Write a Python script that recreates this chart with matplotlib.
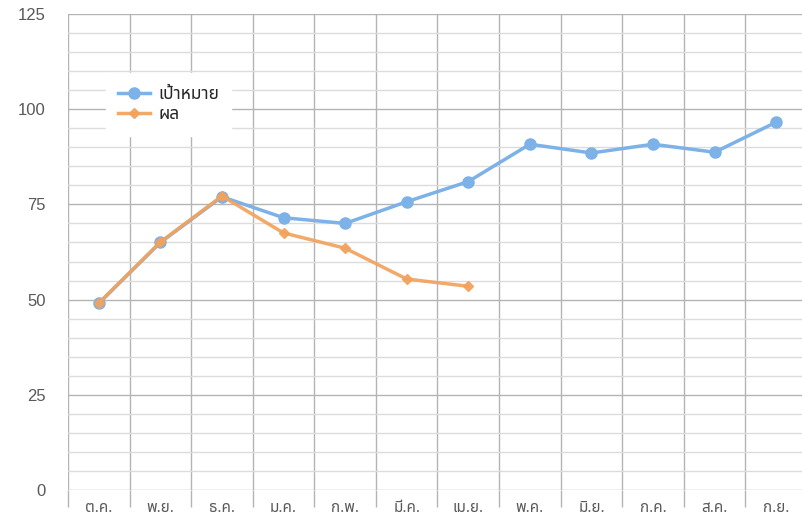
import matplotlib
matplotlib.use("Agg")
import matplotlib.pyplot as plt
from matplotlib.ticker import MultipleLocator, FixedLocator, NullFormatter

plt.rcParams["font.family"] = ["Noto Sans Thai", "Liberation Sans", "DejaVu Sans"]

months = ["ต.ค.", "พ.ย.", "ธ.ค.", "ม.ค.", "ก.พ.", "มี.ค.", "เม.ย.",
          "พ.ค.", "มิ.ย.", "ก.ค.", "ส.ค.", "ก.ย."]
target = [49, 65, 77, 71.5, 70, 75.7, 81, 90.8, 88.5, 90.8, 88.7, 96.6]
result = [49.1, 65.1, 77.2, 67.5, 63.5, 55.4, 53.5]

blue = "#7cb2e8"
orange = "#f2a25c"
grid_major = "#b4b4b4"
grid_minor = "#dcdcdc"

fig = plt.figure(figsize=(8.03, 5.22), dpi=100)
ax = fig.add_axes([68 / 803, 1 - 490 / 522, 739 / 803, 476 / 522])

x = list(range(len(months)))
ax.plot(x, target, color=blue, lw=2.5, marker="o", ms=8, label="เป้าหมาย", zorder=3)
ax.plot(x[:len(result)], result, color=orange, lw=2.5, marker="D", ms=5,
        label="ผล", alpha=0.92, zorder=4)

ax.set_xlim(-0.5, len(months) - 0.5)
ax.set_ylim(0, 125)

# y grid: major every 25, minor every 5
ax.yaxis.set_major_locator(MultipleLocator(25))
ax.yaxis.set_minor_locator(MultipleLocator(5))
ax.grid(axis="y", which="major", color=grid_major, lw=1)
ax.grid(axis="y", which="minor", color=grid_minor, lw=1)

# vertical lines between categories, ticks hang below the axis
ax.xaxis.set_major_locator(FixedLocator([i - 0.5 for i in range(len(months) + 1)]))
ax.xaxis.set_major_formatter(NullFormatter())
ax.xaxis.set_minor_locator(FixedLocator(x))
ax.set_xticklabels(months, minor=True)
ax.grid(axis="x", which="major", color=grid_major, lw=1)
ax.tick_params(axis="x", which="major", length=12, color=grid_major, width=1)
ax.tick_params(axis="x", which="minor", length=0, pad=8, labelsize=11, labelcolor="#595959")
ax.tick_params(axis="y", which="both", length=0, pad=16, labelsize=12, labelcolor="#595959")
for lab in ax.get_yticklabels():
    lab.set_family("Liberation Sans")

for s in ax.spines.values():
    s.set_visible(False)
ax.set_axisbelow(True)

leg = ax.legend(loc="upper left", bbox_to_anchor=(0.04, 0.895), frameon=True,
                fontsize=12.5, handlelength=1.8, handletextpad=0.5, labelspacing=0.15,
                borderpad=0.7)
leg.get_frame().set_edgecolor("white")
leg.get_frame().set_facecolor("white")
leg.get_frame().set_alpha(1)
for t in leg.get_texts():
    t.set_fontweight("bold")
    t.set_color("#262626")

fig.savefig("out.png", dpi=100)
